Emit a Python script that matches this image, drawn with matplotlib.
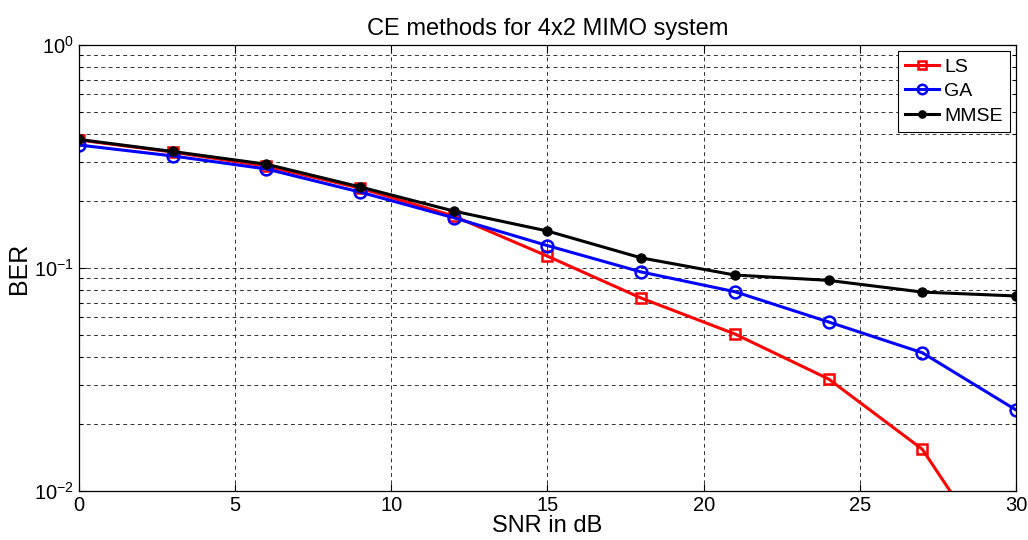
import matplotlib
matplotlib.use("Agg")
import matplotlib.pyplot as plt
from matplotlib.ticker import LogLocator, NullFormatter

plt.rcParams["font.family"] = ["Liberation Sans", "DejaVu Sans"]

# ---- BER vs SNR for the three channel estimators ----------------------
snr_db = [0, 3, 6, 9, 12, 15, 18, 21, 24, 27, 30]
ber_ls = [0.375, 0.331, 0.286, 0.228, 0.171, 0.113, 0.0733, 0.0506, 0.0318, 0.0154, 0.0036]
ber_ga = [0.356, 0.318, 0.278, 0.219, 0.168, 0.126, 0.096, 0.0783, 0.0573, 0.0417, 0.0231]
ber_mmse = [0.377, 0.333, 0.292, 0.231, 0.180, 0.1465, 0.111, 0.093, 0.088, 0.078, 0.0749]

fig = plt.figure(figsize=(10.28, 5.4), dpi=100)
ax = fig.add_axes([0.0768, 0.0907, 0.9115, 0.826])

ax.semilogy(snr_db, ber_ls, "-s", color="red", lw=2.2, ms=7, mfc="none",
            mew=1.8, label="LS")
ax.semilogy(snr_db, ber_ga, "-o", color="blue", lw=2.2, ms=8.5, mfc="none",
            mew=1.8, label="GA")
ax.semilogy(snr_db, ber_mmse, "-o", color="black", lw=2.2, ms=6.5,
            label="MMSE")

ax.set_xlim(0, 30)
ax.set_ylim(1e-2, 1)
ax.set_xticks(range(0, 31, 5))
ax.yaxis.set_major_locator(LogLocator(base=10, numticks=10))
ax.yaxis.set_minor_locator(LogLocator(base=10, subs=range(2, 10), numticks=10))
ax.yaxis.set_minor_formatter(NullFormatter())

# dashed grid on every major and minor line, matlab style
grid_kw = dict(color="0.2", lw=0.7, ls=(0, (4, 3.5)))
ax.grid(True, which="major", **grid_kw)
ax.grid(True, which="minor", axis="y", **grid_kw)

ax.tick_params(which="both", direction="in", top=True, right=True,
               labelsize=14.5, width=0.8)
ax.tick_params(which="major", length=5)
ax.tick_params(which="minor", length=3)
for s in ax.spines.values():
    s.set_linewidth(0.9)

ax.set_title("CE methods for 4x2 MIMO system", fontsize=17, pad=7)
ax.set_xlabel("SNR in dB", fontsize=17, labelpad=0)
ax.set_ylabel("BER", fontsize=18, labelpad=2.5)

leg = ax.legend(loc="upper right", fontsize=14, handlelength=1.75,
                handletextpad=0.25, borderpad=0.38, labelspacing=0.35,
                fancybox=False, framealpha=1, edgecolor="black",
                borderaxespad=0.3, markerscale=0.8)
leg.get_frame().set_linewidth(0.8)

fig.savefig("out.png", dpi=100)
